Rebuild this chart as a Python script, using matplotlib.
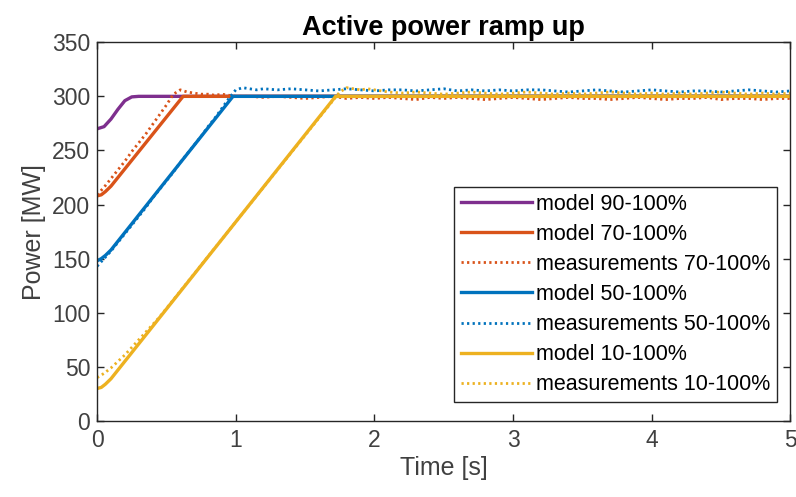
import numpy as np
import matplotlib.pyplot as plt

plt.rcParams['font.family'] = ['Liberation Sans', 'DejaVu Sans']

# model curves (knots of the piecewise lines)
t_m90 = [0, 0.05, 0.1, 0.15, 0.2, 0.25, 0.3, 5.0]
p_m90 = [270, 272, 279, 288, 296, 299.5, 300, 300]

t_m70 = [0, 0.03, 0.06, 0.1, 0.62, 5.0]
p_m70 = [208, 209, 212, 217, 300, 300]

t_m50 = [0, 0.03, 0.06, 0.1, 0.98, 5.0]
p_m50 = [148, 150, 153, 158, 300, 300]

t_m10 = [0, 0.03, 0.06, 0.1, 1.72, 5.0]
p_m10 = [30, 31, 34, 39, 300, 300]

# measurements 70-100%: ramp every 0.05 s up to 1.0 s, then every 0.1 s
p_meas70_ramp = [209, 216, 224, 232, 240, 249, 257, 265, 274, 283, 292,
                 302, 306, 304, 303, 302, 302, 301, 302, 301, 300]
p_meas70_flat = [300, 299, 300, 299, 298, 299, 300, 298, 299, 298,
                 299, 298, 297, 299, 298, 299, 298, 297, 298, 299,
                 298, 297, 298, 299, 298, 298, 297, 298, 299, 298,
                 297, 298, 298, 299, 297, 298, 298, 297, 298, 298]

# measurements 50-100%: ramp every 0.05 s up to 1.2 s, then every 0.1 s
p_meas50_ramp = [143, 150, 157, 165, 173, 181, 189, 197, 206, 214, 222,
                 230, 239, 247, 255, 263, 272, 280, 289, 298, 306,
                 308, 307, 306, 307]
p_meas50_flat = [306, 307, 306, 305, 306, 307, 306, 305, 306, 306,
                 305, 306, 307, 305, 306, 305, 306, 305, 306, 306,
                 305, 304, 305, 306, 305, 304, 305, 306, 305, 304,
                 305, 305, 304, 305, 306, 305, 304, 305]

# measurements 10-100%: ramp every 0.05 s up to 2.0 s, then every 0.1 s
p_meas10_ramp = [40, 44, 49, 55, 61, 68, 75, 82, 89, 96, 104,
                 112, 120, 128, 136, 144, 152, 160, 168, 176, 184,
                 192, 200, 208, 216, 224, 232, 240, 248, 256, 264,
                 272, 280, 288, 296, 304, 308, 307, 306, 307, 306]
p_meas10_flat = [304, 303, 304, 303, 302, 303, 304, 303, 302, 303,
                 304, 303, 302, 303, 302, 303, 304, 303, 302, 303,
                 302, 303, 302, 303, 304, 303, 302, 303, 302, 303]


def time_axis(n_ramp, n_flat, t_end_ramp):
    t1 = np.linspace(0, t_end_ramp, n_ramp)
    t2 = t_end_ramp + 0.1 * np.arange(1, n_flat + 1)
    return np.concatenate([t1, t2])


t_meas70 = time_axis(len(p_meas70_ramp), len(p_meas70_flat), 1.0)
p_meas70 = p_meas70_ramp + p_meas70_flat
t_meas50 = time_axis(len(p_meas50_ramp), len(p_meas50_flat), 1.2)
p_meas50 = p_meas50_ramp + p_meas50_flat
t_meas10 = time_axis(len(p_meas10_ramp), len(p_meas10_flat), 2.0)
p_meas10 = p_meas10_ramp + p_meas10_flat

purple = '#7E2F8E'
orange = '#D95319'
blue = '#0072BD'
yellow = '#EDB120'
dark = '#262626'

fig = plt.figure(figsize=(7.96, 4.97), dpi=100)
ax = fig.add_axes([0.122, 0.153, 0.871, 0.762])

lw_model = 2.4
lw_meas = 2.0
ax.plot(t_m90, p_m90, color=purple, lw=lw_model, label='model 90-100%')
ax.plot(t_m70, p_m70, color=orange, lw=lw_model, label='model 70-100%')
ax.plot(t_meas70, p_meas70, color=orange, lw=lw_meas, ls=(0, (0.8, 1.2)), label='measurements 70-100%')
ax.plot(t_m50, p_m50, color=blue, lw=lw_model, label='model 50-100%')
ax.plot(t_meas50, p_meas50, color=blue, lw=lw_meas, ls=(0, (0.8, 1.2)), label='measurements 50-100%')
ax.plot(t_m10, p_m10, color=yellow, lw=lw_model, label='model 10-100%')
ax.plot(t_meas10, p_meas10, color=yellow, lw=lw_meas, ls=(0, (0.8, 1.2)), label='measurements 10-100%')

ax.set_xlim(0, 5)
ax.set_ylim(0, 350)
ax.set_xticks([0, 1, 2, 3, 4, 5])
ax.set_yticks(np.arange(0, 351, 50))

for s in ax.spines.values():
    s.set_color(dark)
    s.set_linewidth(1.0)
ax.tick_params(direction='in', top=True, right=True, length=5, width=1.0,
               color=dark, labelcolor='#404040', labelsize=16.5)
ax.tick_params(axis='y', pad=5)
ax.tick_params(axis='x', pad=6)

ax.set_xlabel('Time [s]', fontsize=18, color='#404040', labelpad=3)
ax.set_ylabel('Power [MW]', fontsize=18, color='#404040', labelpad=4)
ax.set_title('Active power ramp up', fontsize=19.5, fontweight='bold', pad=5)

leg = ax.legend(loc='lower right', bbox_to_anchor=(0.981, 0.05), fontsize=15.5,
                handlelength=3.3, handletextpad=0.2, labelspacing=0.42,
                borderpad=0.32, borderaxespad=0, fancybox=False, framealpha=1)
leg.get_frame().set_edgecolor(dark)
leg.get_frame().set_linewidth(1.0)

fig.savefig('out.png', dpi=100)
